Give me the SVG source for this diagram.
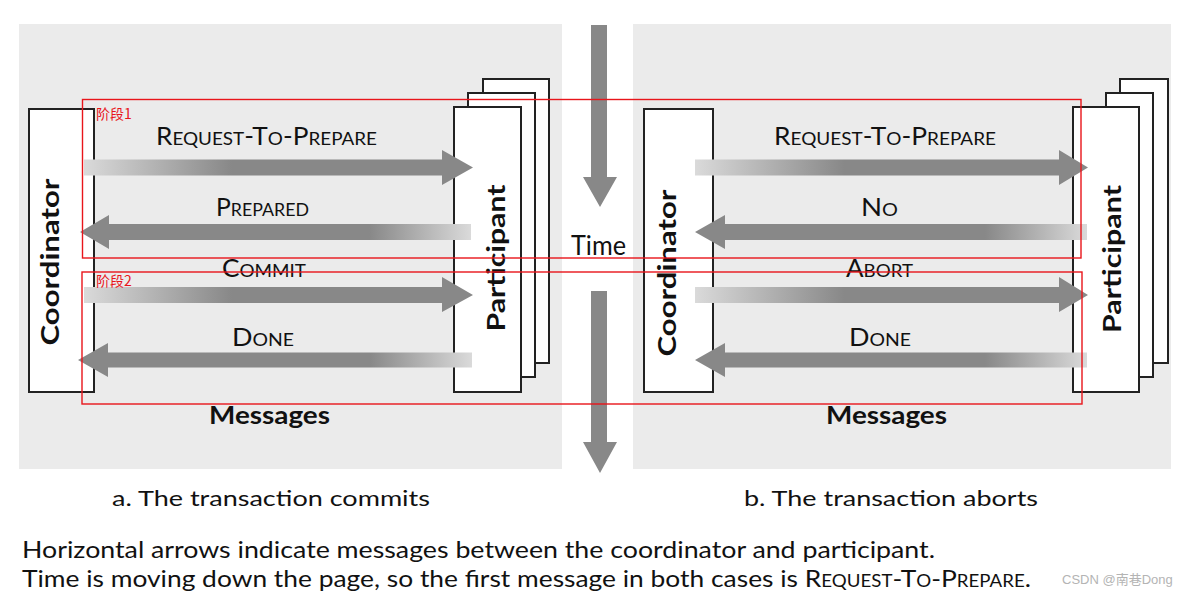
<svg xmlns="http://www.w3.org/2000/svg" width="1184" height="598" viewBox="0 0 1184 598">
<style>
.panel{fill:#ebebeb}
.box{fill:#fff;stroke:#222;stroke-width:2}
.lbl{font-family:Lato,"Liberation Sans",sans-serif;fill:#111;text-anchor:middle}
.big{font-size:25px}
.sm{font-size:18px}
.bold{font-family:Lato,"Liberation Sans",sans-serif;font-weight:bold;fill:#111;text-anchor:middle}
.red{fill:none;stroke:#e8151b;stroke-width:1.4}
.redt{font-family:"Noto Sans CJK SC","Noto Sans",sans-serif;font-size:14px;fill:#e8151b}
.cap{font-family:Lato,"Liberation Sans",sans-serif;fill:#111}
.tarrow{fill:#888}
</style>
<defs>
<linearGradient id="gR" x1="0" y1="0" x2="1" y2="0">
<stop offset="0" stop-color="#dadada"/><stop offset="0.38" stop-color="#888"/><stop offset="1" stop-color="#888"/>
</linearGradient>
<linearGradient id="gL" x1="0" y1="0" x2="1" y2="0">
<stop offset="0" stop-color="#888"/><stop offset="0.74" stop-color="#888"/><stop offset="1" stop-color="#dadada"/>
</linearGradient>
</defs>

<rect class="panel" x="19" y="24" width="543" height="445"/>
<rect class="panel" x="633" y="24" width="538" height="445"/>

<g id="coordinator-a">
<rect class="box" x="29" y="109" width="65" height="283"/>
<text class="bold" font-size="25" transform="translate(59,262) rotate(-90)" textLength="167" lengthAdjust="spacingAndGlyphs">Coordinator</text>
</g>
<g id="participant-a">
<rect class="box" x="483" y="79" width="66" height="284"/>
<rect class="box" x="468" y="93" width="67" height="284"/>
<rect class="box" x="454" y="107" width="67" height="285"/>
<text class="bold" font-size="25" transform="translate(505,258) rotate(-90)" textLength="147" lengthAdjust="spacingAndGlyphs">Participant</text>
</g>
<g id="coordinator-b">
<rect class="box" x="644" y="109" width="69" height="283"/>
<text class="bold" font-size="25" transform="translate(676,273) rotate(-90)" textLength="167" lengthAdjust="spacingAndGlyphs">Coordinator</text>
</g>
<g id="participant-b">
<rect class="box" x="1120" y="79" width="48" height="284"/>
<rect class="box" x="1106" y="93" width="47" height="284"/>
<rect class="box" x="1073" y="107" width="66" height="285"/>
<text class="bold" font-size="25" transform="translate(1121,259) rotate(-90)" textLength="148" lengthAdjust="spacingAndGlyphs">Participant</text>
</g>

<g id="connectors">
<path fill="url(#gR)" d="M84,159.5 H442 V150 L473,167.5 L442,185 V175.5 H84 Z"/>
<path fill="url(#gL)" d="M80,232 L109,215 V224 H471 V240 H109 V249 Z"/>
<path fill="url(#gR)" d="M84,287 H442 V277 L473,295 L442,312 V303 H84 Z"/>
<path fill="url(#gL)" d="M78,360 L108,343 V352.5 H472 V367.5 H108 V377 Z"/>
<path fill="url(#gR)" d="M695,159.5 H1059 V150 L1088,167.5 L1059,185 V175.5 H695 Z"/>
<path fill="url(#gL)" d="M695,232 L725,215 V224 H1087 V240 H725 V249 Z"/>
<path fill="url(#gR)" d="M695,287 H1059 V277 L1088,295 L1059,312 V303 H695 Z"/>
<path fill="url(#gL)" d="M695,360 L725,343 V352.5 H1087 V367.5 H725 V377 Z"/>
<path class="tarrow" d="M591,25 H607 V177 H617 L600,207 L583,177 H591 Z"/>
<path class="tarrow" d="M591,291 H607 V442 H617 L600,473 L583,442 H591 Z"/>
</g>

<g id="labels-a">
<text class="lbl" x="266.5" y="145" textLength="221" lengthAdjust="spacingAndGlyphs"><tspan class="big">R</tspan><tspan class="sm">EQUEST</tspan><tspan class="big">-T</tspan><tspan class="sm">O</tspan><tspan class="big">-P</tspan><tspan class="sm">REPARE</tspan></text>
<text class="lbl" x="262.5" y="216" textLength="93" lengthAdjust="spacingAndGlyphs"><tspan class="big">P</tspan><tspan class="sm">REPARED</tspan></text>
<text class="lbl" x="264" y="277" textLength="84" lengthAdjust="spacingAndGlyphs"><tspan class="big">C</tspan><tspan class="sm">OMMIT</tspan></text>
<text class="lbl" x="263" y="346" textLength="62" lengthAdjust="spacingAndGlyphs"><tspan class="big">D</tspan><tspan class="sm">ONE</tspan></text>
<text class="bold" font-size="24" x="269.5" y="424" textLength="121" lengthAdjust="spacingAndGlyphs">Messages</text>
</g>
<g id="labels-b">
<text class="lbl" x="885" y="145" textLength="222" lengthAdjust="spacingAndGlyphs"><tspan class="big">R</tspan><tspan class="sm">EQUEST</tspan><tspan class="big">-T</tspan><tspan class="sm">O</tspan><tspan class="big">-P</tspan><tspan class="sm">REPARE</tspan></text>
<text class="lbl" x="879.5" y="216" textLength="37" lengthAdjust="spacingAndGlyphs"><tspan class="big">N</tspan><tspan class="sm">O</tspan></text>
<text class="lbl" x="879.5" y="277" textLength="67" lengthAdjust="spacingAndGlyphs"><tspan class="big">A</tspan><tspan class="sm">BORT</tspan></text>
<text class="lbl" x="880" y="346" textLength="62" lengthAdjust="spacingAndGlyphs"><tspan class="big">D</tspan><tspan class="sm">ONE</tspan></text>
<text class="bold" font-size="24" x="886.5" y="424" textLength="121" lengthAdjust="spacingAndGlyphs">Messages</text>
</g>
<g id="time">
<text class="cap" font-size="26" x="571" y="255" textLength="55" lengthAdjust="spacingAndGlyphs">Time</text>
</g>

<g id="phases">
<rect class="red" x="82.5" y="99.5" width="998.5" height="158.5"/>
<text class="redt" x="96" y="119">阶段1</text>
<rect class="red" x="82" y="272" width="1000" height="132"/>
<text class="redt" x="96" y="286">阶段2</text>
</g>

<g id="captions">
<text class="cap" font-size="22" x="112" y="506" textLength="318" lengthAdjust="spacingAndGlyphs">a. The transaction commits</text>
<text class="cap" font-size="22" x="744" y="506" textLength="294" lengthAdjust="spacingAndGlyphs">b. The transaction aborts</text>
<text class="cap" font-size="24" x="22" y="558" textLength="913" lengthAdjust="spacingAndGlyphs">Horizontal arrows indicate messages between the coordinator and participant.</text>
<text class="cap" x="22" y="587" textLength="1009" lengthAdjust="spacingAndGlyphs"><tspan font-size="24">Time is moving down the page, so the first message in both cases is R</tspan><tspan font-size="17">EQUEST</tspan><tspan font-size="24">-T</tspan><tspan font-size="17">O</tspan><tspan font-size="24">-P</tspan><tspan font-size="17">REPARE</tspan><tspan font-size="24">.</tspan></text>
<text x="1062" y="584" font-family="'Liberation Sans','Noto Sans CJK SC',sans-serif" font-size="13" fill="#b4b4b4">CSDN @南巷Dong</text>
</g>
</svg>
